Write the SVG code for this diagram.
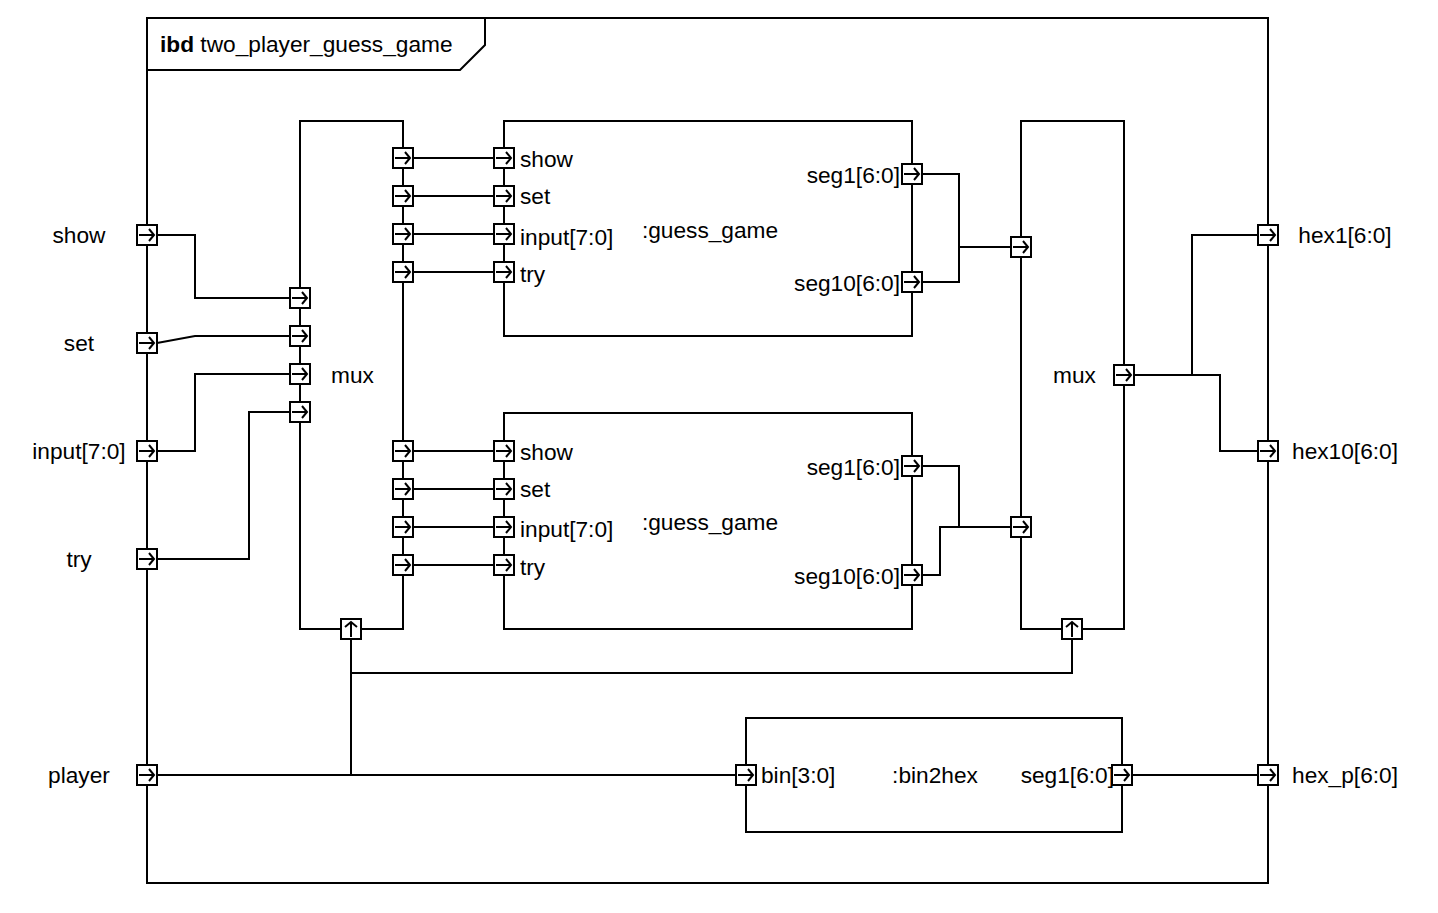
<svg xmlns="http://www.w3.org/2000/svg" xmlns:xlink="http://www.w3.org/1999/xlink" width="1438" height="913" viewBox="0 0 1438 913">
<style>
.b{fill:#fff;stroke:#000;stroke-width:2}
.w{fill:none;stroke:#000;stroke-width:2}
text{font-family:"Liberation Sans",Arial,sans-serif;font-size:22.7px;fill:#000}
.m{text-anchor:middle}
.e{text-anchor:end}
</style>
<defs>
<g id="p">
<rect x="-10" y="-10" width="20" height="20" fill="#fff" stroke="#000" stroke-width="2"/>
<path d="M-8 0H7M2-6L7 0L2 6" fill="none" stroke="#000" stroke-width="2"/>
</g>
</defs>
<rect width="1438" height="913" fill="#fff"/>
<g id="frame">
<rect class="w" x="147" y="18" width="1121" height="865"/>
<path class="w" d="M147 70H460L485 45V18"/>
<text x="160" y="52"><tspan font-weight="bold">ibd</tspan> two_player_guess_game</text>
</g>
<g id="connectors" class="w">
<path d="M157 235H195V298H290"/>
<path d="M157 343L195 336H290"/>
<path d="M157 451H195V374H290"/>
<path d="M157 559H249V412H290"/>
<path d="M413 158H494M413 196H494M413 234H494M413 272H494"/>
<path d="M413 451H494M413 489H494M413 527H494M413 565H494"/>
<path d="M922 174H959V282H922M959 247H1011"/>
<path d="M922 466H959V527M922 575H940V527H1011"/>
<path d="M1134 375H1192V235H1258M1192 375H1220V451H1258"/>
<path d="M157 775H736M351 775V639M351 673H1072V639"/>
<path d="M1132 775H1258"/>
</g>
<g id="mux1">
<rect class="b" x="300" y="121" width="103" height="508"/>
<text x="331" y="383">mux</text>
<use xlink:href="#p" x="300" y="298"/><use xlink:href="#p" x="300" y="336"/><use xlink:href="#p" x="300" y="374"/><use xlink:href="#p" x="300" y="412"/>
<use xlink:href="#p" x="403" y="158"/><use xlink:href="#p" x="403" y="196"/><use xlink:href="#p" x="403" y="234"/><use xlink:href="#p" x="403" y="272"/>
<use xlink:href="#p" x="403" y="451"/><use xlink:href="#p" x="403" y="489"/><use xlink:href="#p" x="403" y="527"/><use xlink:href="#p" x="403" y="565"/>
<use xlink:href="#p" transform="translate(351 629) rotate(-90)"/>
</g>
<g id="guess_game1">
<rect class="b" x="504" y="121" width="408" height="215"/>
<text class="m" x="710" y="238">:guess_game</text>
<text x="520" y="167">show</text><text x="520" y="204">set</text><text x="520" y="245">input[7:0]</text><text x="520" y="282">try</text>
<text class="e" x="900" y="183">seg1[6:0]</text><text class="e" x="900" y="291">seg10[6:0]</text>
<use xlink:href="#p" x="504" y="158"/><use xlink:href="#p" x="504" y="196"/><use xlink:href="#p" x="504" y="234"/><use xlink:href="#p" x="504" y="272"/>
<use xlink:href="#p" x="912" y="174"/><use xlink:href="#p" x="912" y="282"/>
</g>
<g id="guess_game2">
<rect class="b" x="504" y="413" width="408" height="216"/>
<text class="m" x="710" y="530">:guess_game</text>
<text x="520" y="460">show</text><text x="520" y="497">set</text><text x="520" y="537">input[7:0]</text><text x="520" y="575">try</text>
<text class="e" x="900" y="475">seg1[6:0]</text><text class="e" x="900" y="584">seg10[6:0]</text>
<use xlink:href="#p" x="504" y="451"/><use xlink:href="#p" x="504" y="489"/><use xlink:href="#p" x="504" y="527"/><use xlink:href="#p" x="504" y="565"/>
<use xlink:href="#p" x="912" y="466"/><use xlink:href="#p" x="912" y="575"/>
</g>
<g id="mux2">
<rect class="b" x="1021" y="121" width="103" height="508"/>
<text x="1053" y="383">mux</text>
<use xlink:href="#p" x="1021" y="247"/><use xlink:href="#p" x="1021" y="527"/>
<use xlink:href="#p" x="1124" y="375"/>
<use xlink:href="#p" transform="translate(1072 629) rotate(-90)"/>
</g>
<g id="bin2hex">
<rect class="b" x="746" y="718" width="376" height="114"/>
<text x="761" y="783">bin[3:0]</text>
<text class="m" x="935" y="783">:bin2hex</text>
<text class="e" x="1114" y="783">seg1[6:0]</text>
<use xlink:href="#p" x="746" y="775"/><use xlink:href="#p" x="1122" y="775"/>
</g>
<g id="ports_in">
<use xlink:href="#p" x="147" y="235"/><text class="m" x="79" y="243">show</text>
<use xlink:href="#p" x="147" y="343"/><text class="m" x="79" y="351">set</text>
<use xlink:href="#p" x="147" y="451"/><text class="m" x="79" y="459">input[7:0]</text>
<use xlink:href="#p" x="147" y="559"/><text class="m" x="79" y="567">try</text>
<use xlink:href="#p" x="147" y="775"/><text class="m" x="79" y="783">player</text>
</g>
<g id="ports_out">
<use xlink:href="#p" x="1268" y="235"/><text class="m" x="1345" y="243">hex1[6:0]</text>
<use xlink:href="#p" x="1268" y="451"/><text class="m" x="1345" y="459">hex10[6:0]</text>
<use xlink:href="#p" x="1268" y="775"/><text class="m" x="1345" y="783">hex_p[6:0]</text>
</g>
</svg>
